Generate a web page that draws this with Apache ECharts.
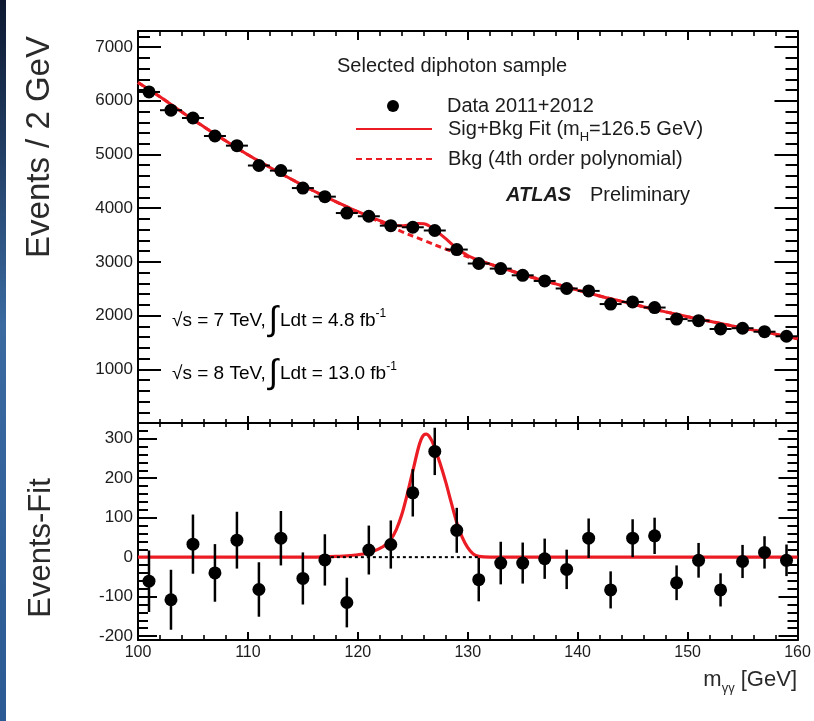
<!DOCTYPE html>
<html>
<head>
<meta charset="utf-8">
<script src="https://cdn.jsdelivr.net/npm/echarts@6/dist/echarts.min.js"></script>
<style>html,body{margin:0;padding:0;background:#fff}#c{width:814px;height:721px}</style>
</head>
<body>
<div id="c"></div>
<script>
// ---- data ----
const massBins = [101,103,105,107,109,111,113,115,117,119,121,123,125,127,129,131,133,135,137,139,141,143,145,147,149,151,153,155,157,159];
const events = [6165,5825,5680,5345,5165,4795,4700,4375,4215,3910,3850,3675,3645,3585,3230,2970,2875,2750,2645,2505,2460,2215,2255,2150,1935,1905,1750,1765,1700,1615];
const residuals = [-61,-108,33,-40,43,-82,48,-54,-7,-115,18,32,163,268,68,-57,-15,-15,-4,-31,48,-83,48,54,-65,-8,-83,-11,12,-8];
const statErrors = [78,76,75,73,72,69,69,66,65,63,62,61,60,60,57,55,54,52,51,50,50,47,48,46,44,44,42,42,41,40];
const binHalfWidth = 1;

const bkgMass = [100,102,104,106,108,110,112,114,116,118,120,122,124,126,128,130,132,134,136,138,140,142,144,146,148,150,152,154,156,158,160];
const bkgFit = [6340,6075,5790,5515,5250,4995,4760,4535,4320,4120,3930,3745,3565,3400,3240,3095,2960,2830,2705,2590,2475,2365,2265,2165,2070,1980,1895,1810,1730,1655,1570];

const fitMass = [100,102,104,106,108,110,112,114,116,118,119,120,121,122,122.5,123,123.5,124,124.5,125,125.5,126,126.5,127,127.5,128,128.5,129,129.5,130,130.5,131,132,134,136,138,140,142,144,146,148,150,152,154,156,158,160];
const sigBkgFit = [6340,6075,5790,5515,5250,4995,4760,4535,4320,4122,4028,3936,3849,3767,3731,3700,3680,3673,3683,3699,3716,3710,3668,3598,3518,3432,3341,3255,3181,3119,3069,3029,2960,2830,2705,2590,2475,2365,2265,2165,2070,1980,1895,1810,1730,1655,1570];

const sigMass = [100,110,116,117,118,119,120,120.5,121,121.5,122,122.5,123,123.5,124,124.5,125,125.5,125.75,126,126.25,126.5,126.75,127,127.5,128,128.5,129,129.5,130,130.5,131,132,140,150,160];
const sigFit = [0,0,0,1,2,3,6,8,12,16,22,31,45,70,108,160,218,276,298,310,312,306,294,276,236,190,138,88,50,24,8,2,0,0,0,0];

const zeroLineRange = [117, 131];

const xTicks = {min: 100, max: 160, major: 10};
const yTopTicks = {min: 0, max: 7300, major: 1000, minor: 200};
const yBotRange = {min: -210, max: 340};
const yBotTicks = {min: -200, max: 340, major: 100, minor: 20};

// ---- styling ----
const FONT = 'Liberation Sans, Arial, Helvetica, sans-serif';
const RED = '#ec1c24';
const TXT = '#1c1c1c';
const GL = 138, GW = 659.5;

function xAx(grid, pos, major, minor, labels) {
  return {
    type: 'value', gridIndex: grid, position: pos,
    min: xTicks.min, max: xTicks.max, interval: xTicks.major,
    axisLine: {show: true, onZero: false, lineStyle: {color: '#000', width: 2}},
    axisTick: {show: true, inside: true, length: major, lineStyle: {color: '#000', width: 2}},
    minorTick: {show: true, splitNumber: 5, length: minor, lineStyle: {color: '#000', width: 1.6}},
    axisLabel: {show: labels, margin: 5, color: TXT, fontFamily: FONT, fontSize: 16},
    splitLine: {show: false}, minorSplitLine: {show: false}
  };
}
function yAx(grid, pos, min, max, interval, tickLen, line, labelFmt) {
  return {
    type: 'value', gridIndex: grid, position: pos, offset: 0,
    min: min, max: max, interval: interval,
    axisLine: {show: line, onZero: false, lineStyle: {color: '#000', width: 2}},
    axisTick: {show: tickLen > 0, inside: true, length: tickLen, lineStyle: {color: '#000', width: 2}},
    axisLabel: labelFmt ? {show: true, margin: 5, color: TXT, fontFamily: FONT, fontSize: 17, formatter: labelFmt} : {show: false},
    splitLine: {show: false}
  };
}
const topFmt = v => (v > 0 && v % 1000 === 0) ? String(v) : '';
const botFmt = v => (v % 100 === 0) ? String(v) : '';

function errRender(withX) {
  return function (params, api) {
    const x = api.value(0), y = api.value(1), e = api.value(2);
    const lo = api.coord([x, y - e]), hi = api.coord([x, y + e]);
    const children = [{type: 'line', shape: {x1: lo[0], y1: lo[1], x2: hi[0], y2: hi[1]}, style: {stroke: '#000', lineWidth: 2.5}}];
    if (withX) {
      const l = api.coord([x - binHalfWidth, y]), r = api.coord([x + binHalfWidth, y]);
      children.push({type: 'line', shape: {x1: l[0], y1: l[1], x2: r[0], y2: r[1]}, style: {stroke: '#000', lineWidth: 2}});
    }
    return {type: 'group', children: children};
  };
}

const topData = massBins.map((m, i) => [m, events[i]]);
const topErr = massBins.map((m, i) => [m, events[i], statErrors[i]]);
const botData = massBins.map((m, i) => [m, residuals[i]]);
const botErr = massBins.map((m, i) => [m, residuals[i], statErrors[i]]);

const legendRich = {
  gap: {width: 11, fontSize: 20, fontFamily: FONT},
  gapD: {width: 43, fontSize: 20, fontFamily: FONT},
  n: {fontSize: 20, fontFamily: FONT, color: TXT, lineHeight: 30},
  sub: {fontSize: 13, fontFamily: FONT, color: TXT, lineHeight: 13, verticalAlign: 'bottom'}
};
function legendItem(name, left, width, centerY, fmt, hideSymbol) {
  const l = {
    data: [name], orient: 'vertical', left: left, top: centerY - 15, padding: 0,
    itemWidth: width, itemHeight: 12, selectedMode: false,
    textStyle: {color: TXT, fontFamily: FONT, fontSize: 20, lineHeight: 30, rich: legendRich},
    formatter: fmt
  };
  if (hideSymbol) l.itemStyle = {opacity: 0, color: 'rgba(0,0,0,0)', borderWidth: 0};
  return l;
}

const smallRich = {
  t: {fontSize: 19, fontFamily: FONT, color: TXT, lineHeight: 26},
  i: {fontSize: 34, fontFamily: FONT, color: TXT, lineHeight: 26, padding: [0, 2, 0, 3]},
  p: {fontSize: 12, fontFamily: FONT, color: TXT, lineHeight: 17, verticalAlign: 'top'}
};

const option = {
  backgroundColor: '#ffffff',
  animation: false,
  grid: [
    {left: GL, top: 31, width: GW, height: 392, outerBoundsMode: 'none'},
    {left: GL, top: 423, width: GW, height: 217, outerBoundsMode: 'none'},
    {left: GL, top: 423, width: GW, height: 217 * (yBotTicks.max - yBotTicks.min) / (yBotRange.max - yBotRange.min), outerBoundsMode: 'none'}
  ],
  xAxis: [
    xAx(0, 'bottom', 7, 4, false),
    xAx(0, 'top', 9, 5, false),
    xAx(1, 'bottom', 8, 5, true),
    xAx(1, 'top', 7, 4, false),
    {type: 'value', gridIndex: 2, min: xTicks.min, max: xTicks.max, show: false}
  ],
  yAxis: [
    yAx(0, 'left', yTopTicks.min, yTopTicks.max, yTopTicks.major, 23, true, topFmt),
    yAx(0, 'left', yTopTicks.min, yTopTicks.max, yTopTicks.minor, 12, false, null),
    yAx(0, 'right', yTopTicks.min, yTopTicks.max, yTopTicks.major, 23, true, null),
    yAx(0, 'right', yTopTicks.min, yTopTicks.max, yTopTicks.minor, 12, false, null),
    yAx(1, 'left', yBotRange.min, yBotRange.max, null, 0, true, null),
    yAx(1, 'right', yBotRange.min, yBotRange.max, null, 0, true, null),
    yAx(2, 'left', yBotTicks.min, yBotTicks.max, yBotTicks.major, 19, false, botFmt),
    yAx(2, 'left', yBotTicks.min, yBotTicks.max, yBotTicks.minor, 10, false, null),
    yAx(2, 'right', yBotTicks.min, yBotTicks.max, yBotTicks.major, 19, false, null),
    yAx(2, 'right', yBotTicks.min, yBotTicks.max, yBotTicks.minor, 10, false, null)
  ],
  legend: [
    legendItem('Data 2011+2012', 387, 12, 106, n => '{gapD| }{n|' + n + '}', false),
    legendItem('Sig+Bkg Fit (m_H=126.5 GeV)', 355, 76, 129, n => '{gap| }{n|Sig+Bkg Fit (m}{sub|H}{n|=126.5 GeV)}', true),
    legendItem('Bkg (4th order polynomial)', 355, 76, 159, n => '{gap| }{n|' + n + '}', true)
  ],
  series: [
    {
      name: 'Bkg (4th order polynomial)', type: 'line', xAxisIndex: 0, yAxisIndex: 0,
      data: bkgMass.map((m, i) => [m, bkgFit[i]]), smooth: true, symbol: 'none', z: 2,
      lineStyle: {color: RED, width: 3, type: [6, 4]}, itemStyle: {color: RED}
    },
    {
      name: 'Sig+Bkg Fit (m_H=126.5 GeV)', type: 'line', xAxisIndex: 0, yAxisIndex: 0,
      data: fitMass.map((m, i) => [m, sigBkgFit[i]]), smooth: true, symbol: 'none', z: 3,
      lineStyle: {color: RED, width: 3}, itemStyle: {color: RED}
    },
    {
      name: 'errTop', type: 'custom', xAxisIndex: 0, yAxisIndex: 0, data: topErr,
      renderItem: errRender(true), encode: {x: 0, y: 1}, z: 4, silent: true
    },
    {
      name: 'Data 2011+2012', type: 'scatter', xAxisIndex: 0, yAxisIndex: 0, data: topData,
      symbol: 'circle', symbolSize: 13, itemStyle: {color: '#000', opacity: 1}, z: 5
    },
    {
      name: 'sigBot', type: 'line', xAxisIndex: 2, yAxisIndex: 4,
      data: sigMass.map((m, i) => [m, sigFit[i]]), smooth: 0.35, symbol: 'none', z: 2,
      lineStyle: {color: RED, width: 3.2}
    },
    {
      name: 'zeroBot', type: 'line', xAxisIndex: 2, yAxisIndex: 4,
      data: zeroLineRange.map(m => [m, 0]), symbol: 'none', z: 3,
      lineStyle: {color: '#000', width: 2, type: [3, 3]}
    },
    {
      name: 'errBot', type: 'custom', xAxisIndex: 2, yAxisIndex: 4, data: botErr,
      renderItem: errRender(false), encode: {x: 0, y: 1}, z: 4, silent: true
    },
    {
      name: 'resid', type: 'scatter', xAxisIndex: 2, yAxisIndex: 4, data: botData,
      symbol: 'circle', symbolSize: 13, itemStyle: {color: '#000', opacity: 1}, z: 5
    }
  ],
  graphic: [
    {type: 'rect', left: 0, top: 0, shape: {width: 6, height: 721}, z: 0,
      style: {fill: new echarts.graphic.LinearGradient(0, 0, 0, 1, [
        {offset: 0, color: '#0d1830'}, {offset: 0.45, color: '#3a6aa0'}, {offset: 1, color: '#2b5a94'}])}},
    {type: 'text', x: 40, y: 147, rotation: Math.PI / 2,
      style: {text: 'Events / 2 GeV', fontSize: 33, fontFamily: FONT, fill: '#2a2a2a', align: 'center', verticalAlign: 'middle'}},
    {type: 'text', x: 41, y: 548, rotation: Math.PI / 2,
      style: {text: 'Events-Fit', fontSize: 31, fontFamily: FONT, fill: '#2a2a2a', align: 'center', verticalAlign: 'middle'}},
    {type: 'text', x: 797, y: 680,
      style: {text: '{m|m}{s|γγ}{g| [GeV]}', align: 'right', verticalAlign: 'middle',
        rich: {
          m: {fontSize: 22, fontFamily: FONT, fill: '#2a2a2a', color: '#2a2a2a', lineHeight: 30},
          s: {fontSize: 13, fontFamily: FONT, fill: '#2a2a2a', color: '#2a2a2a', lineHeight: 13, verticalAlign: 'bottom'},
          g: {fontSize: 22, fontFamily: FONT, fill: '#2a2a2a', color: '#2a2a2a', lineHeight: 30}
        }}},
    {type: 'text', x: 337, y: 66,
      style: {text: 'Selected diphoton sample', fontSize: 20, fontFamily: FONT, fill: TXT, align: 'left', verticalAlign: 'middle'}},
    {type: 'text', x: 506, y: 195,
      style: {text: 'ATLAS', fontSize: 20, fontFamily: FONT, fontWeight: 'bold', fontStyle: 'italic', fill: TXT, align: 'left', verticalAlign: 'middle'}},
    {type: 'text', x: 590, y: 195,
      style: {text: 'Preliminary', fontSize: 20, fontFamily: FONT, fill: TXT, align: 'left', verticalAlign: 'middle'}},
    {type: 'text', x: 172, y: 321,
      style: {text: '{t|√s = 7 TeV,}{i|∫}{t|Ldt = 4.8 fb}{p|-1}', align: 'left', verticalAlign: 'middle', rich: smallRich}},
    {type: 'text', x: 172, y: 374,
      style: {text: '{t|√s = 8 TeV,}{i|∫}{t|Ldt = 13.0 fb}{p|-1}', align: 'left', verticalAlign: 'middle', rich: smallRich}}
  ]
};

const chart = echarts.init(document.getElementById('c'), null, {renderer: 'canvas'});
chart.setOption(option);
</script>
</body>
</html>
